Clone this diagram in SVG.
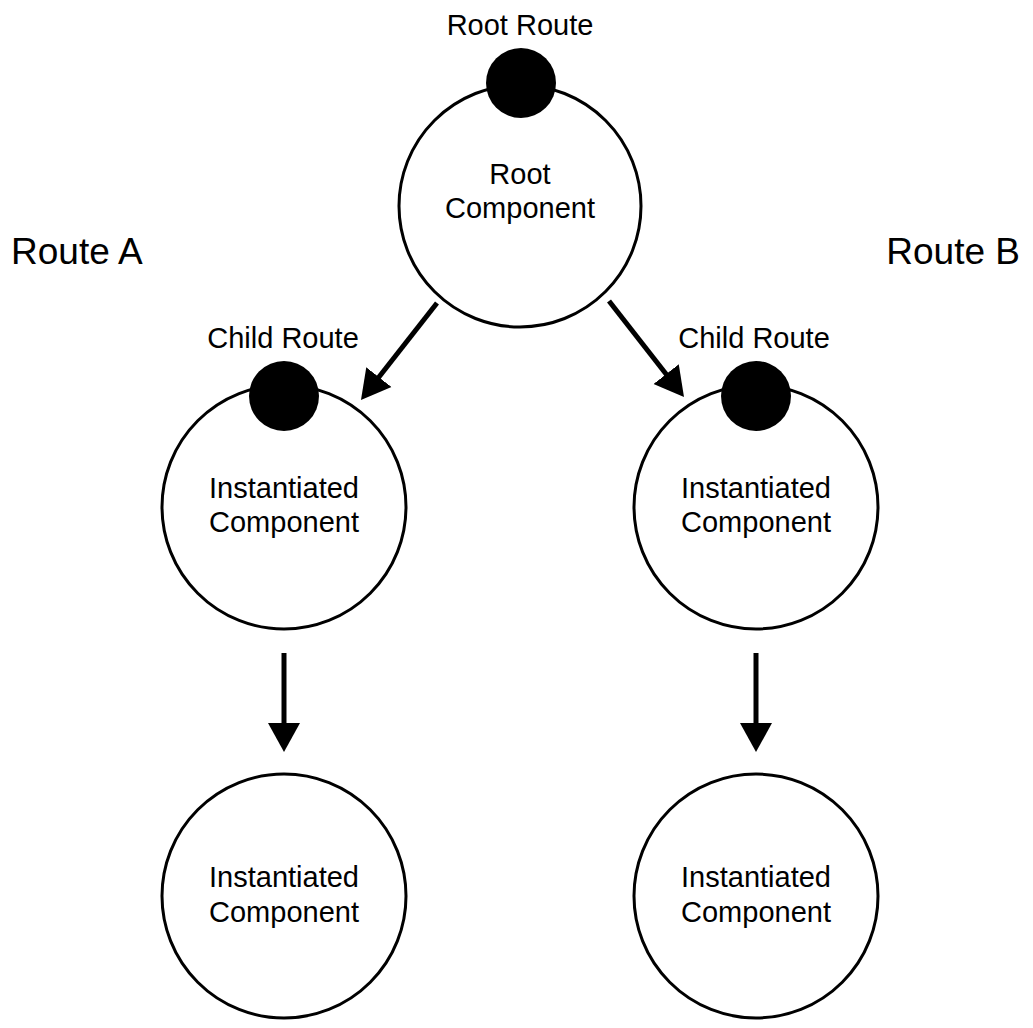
<svg xmlns="http://www.w3.org/2000/svg" width="1033" height="1028" viewBox="0 0 1033 1028">
  <style>
    .node { fill: #ffffff; stroke: #000000; stroke-width: 3; }
    .dot { fill: #000000; stroke: none; }
    .lbl { font-family: "Liberation Sans", Arial, sans-serif; font-size: 29px; fill: #000000; text-anchor: middle; }
    .route { font-family: "Liberation Sans", Arial, sans-serif; font-size: 37px; fill: #000000; }
    .edge { stroke: #000000; stroke-width: 5; fill: none; }
  </style>
  <defs>
    <marker id="arrow" markerUnits="userSpaceOnUse" markerWidth="30" markerHeight="34" viewBox="0 0 30 34" refX="10" refY="17" orient="auto">
      <polygon points="0,1 29,17 0,33" fill="#000000"/>
    </marker>
  </defs>
  <rect width="1033" height="1028" fill="#ffffff"/>

  <text class="route" x="11" y="264">Route A</text>
  <text class="route" x="1020" y="264" text-anchor="end">Route B</text>

  <g id="edges">
    <line class="edge" x1="437" y1="303" x2="372.7" y2="385" marker-end="url(#arrow)"/>
    <line class="edge" x1="609" y1="301" x2="672.3" y2="382" marker-end="url(#arrow)"/>
    <line class="edge" x1="284" y1="653" x2="284" y2="733" marker-end="url(#arrow)"/>
    <line class="edge" x1="756" y1="653" x2="756" y2="733" marker-end="url(#arrow)"/>
  </g>

  <g id="root">
    <circle class="node" cx="520" cy="206" r="121"/>
    <circle class="dot" cx="521" cy="83" r="35"/>
    <text class="lbl" x="520" y="35">Root Route</text>
    <text class="lbl" x="520" y="184">Root</text>
    <text class="lbl" x="520" y="218">Component</text>
  </g>

  <g id="childA">
    <circle class="node" cx="284" cy="507" r="122"/>
    <circle class="dot" cx="284" cy="396" r="35"/>
    <text class="lbl" x="283" y="348">Child Route</text>
    <text class="lbl" x="284" y="498">Instantiated</text>
    <text class="lbl" x="284" y="532">Component</text>
  </g>

  <g id="childB">
    <circle class="node" cx="756" cy="507" r="122"/>
    <circle class="dot" cx="756" cy="396" r="35"/>
    <text class="lbl" x="754" y="348">Child Route</text>
    <text class="lbl" x="756" y="498">Instantiated</text>
    <text class="lbl" x="756" y="532">Component</text>
  </g>

  <g id="leafA">
    <circle class="node" cx="284" cy="896" r="122"/>
    <text class="lbl" x="284" y="887">Instantiated</text>
    <text class="lbl" x="284" y="922">Component</text>
  </g>

  <g id="leafB">
    <circle class="node" cx="756" cy="896" r="122"/>
    <text class="lbl" x="756" y="887">Instantiated</text>
    <text class="lbl" x="756" y="922">Component</text>
  </g>
</svg>
